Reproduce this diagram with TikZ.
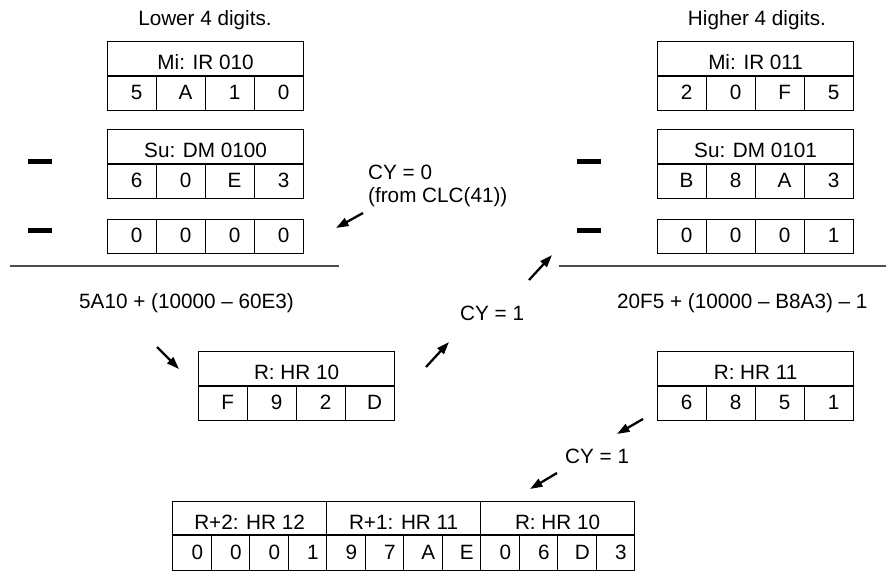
\documentclass[tikz,border=0pt]{standalone}
\usepackage{fontspec}
\setmainfont{Liberation Sans}
\usetikzlibrary{calc,arrows.meta}
\newcommand\regbox[6]{%
  \node[hdr, minimum width={#4pt*4}] (#1) at (#2,#3) {#5};
  \foreach \dg [count=\ci] in {#6}
    \node[cell, dshift=9pt, minimum width={#4pt}] (#1-\ci) at ($(#1.south west)+({(\ci-1)*#4},0)$) {\dg};
}
\begin{document}
\begin{tikzpicture}[x=1pt,y=-1pt,
  every node/.style={font=\fontsize{20.7pt}{24pt}\selectfont},
  box/.style={draw, line width=1.2pt, inner sep=0pt, anchor=north west},
  hdr/.style={box, minimum height=34pt, text height=22pt, text depth=0.2pt},
  cell/.style={box, minimum height=34pt, text height=12pt, text depth=0.2pt},
  dshift/.style={execute at begin node={\hspace*{#1}}},
  lbl/.style={inner sep=0pt},
  arr/.style={line width=2.3pt, -{Triangle[length=12.5pt,width=8.5pt]}},
  sep/.style={line width=1.3pt, black!70},
  minusbar/.style={fill=black}]
\useasboundingbox (0,0) rectangle (886,571);

% titles
\node[lbl, anchor=base] (lowt) at (205,25.5) {Lower 4 digits.};
\node[lbl, anchor=base] (hight) at (757,25.5) {Higher 4 digits.};

% left column
\regbox{mi1}{107}{41}{49}{Mi: IR 010}{5,A,1,0}
\regbox{su1}{107}{128.5}{49}{Su: DM 0100}{6,0,E,3}
\node[cell, dshift=9pt, minimum width=49pt] (z1-1) at (107,218.5) {0};
\node[cell, dshift=9pt, minimum width=49pt] (z1-2) at (156,218.5) {0};
\node[cell, dshift=9pt, minimum width=49pt] (z1-3) at (205,218.5) {0};
\node[cell, dshift=9pt, minimum width=49pt] (z1-4) at (254,218.5) {0};

% right column
\regbox{mi2}{657}{41}{49}{Mi: IR 011}{2,0,F,5}
\regbox{su2}{657}{128.5}{49}{Su: DM 0101}{B,8,A,3}
\node[cell, dshift=9pt, minimum width=49pt] (z2-1) at (657,218.5) {0};
\node[cell, dshift=9pt, minimum width=49pt] (z2-2) at (706,218.5) {0};
\node[cell, dshift=9pt, minimum width=49pt] (z2-3) at (755,218.5) {0};
\node[cell, dshift=9pt, minimum width=49pt] (z2-4) at (804,218.5) {1};

% minus signs
\fill[minusbar] (28,158.5) rectangle (52,163.5);
\fill[minusbar] (28,227.5) rectangle (52,232.5);
\fill[minusbar] (577,158.5) rectangle (601,163.5);
\fill[minusbar] (577,227.5) rectangle (601,232.5);

% separator lines
\coordinate (s1a) at (10,266);
\coordinate (s1b) at (339,266);
\coordinate (s2a) at (559,266);
\coordinate (s2b) at (886,266);
\draw[sep] (s1a) -- (s1b);
\draw[sep] (s2a) -- (s2b);

% carry texts
\node[lbl, anchor=base west] (cy0) at (368,179) {CY = 0};
\node[lbl, anchor=base west] (cy0b) at (368,202) {(from CLC(41))};
\node[lbl, anchor=base west] (eq1) at (79,308) {5A10 + (10000 – 60E3)};
\node[lbl, anchor=base west] (eq2) at (617,308) {20F5 + (10000 – B8A3) – 1};
\node[lbl, anchor=base west] (cy1a) at (460,320) {CY = 1};
\node[lbl, anchor=base west] (cy1b) at (565,463) {CY = 1};

% results
\regbox{hr10}{198}{351}{49}{R: HR 10}{F,9,2,D}
\regbox{hr11}{657}{351}{49}{R: HR 11}{6,8,5,1}

% final result
\node[hdr, minimum width=154pt, minimum height=33pt] (b3) at (172,501) {R+2: HR 12};
\node[hdr, minimum width=154pt, minimum height=33pt] (b2) at (326,501) {R+1: HR 11};
\node[hdr, minimum width=154pt, minimum height=33pt] (b1) at (480,501) {R: HR 10};
\foreach \dg [count=\ci] in {0,0,0,1,9,7,A,E,0,6,D,3}
  \node[cell, dshift=11pt, minimum width=38.5pt, minimum height=35pt]
    (bc-\ci) at ($(b3.south west)+({(\ci-1)*38.5},0)$) {\dg};

% arrows
\coordinate (a1s) at (363,213); \coordinate (a1e) at (336,228);
\coordinate (a2s) at (157,347); \coordinate (a2e) at (179,369);
\coordinate (a3s) at (426,367); \coordinate (a3e) at (449,342);
\coordinate (a4s) at (529,280); \coordinate (a4e) at (552,255);
\coordinate (a5s) at (643,419); \coordinate (a5e) at (617,434);
\coordinate (a6s) at (557,473); \coordinate (a6e) at (530,489);
\draw[arr] (a1s) -- (a1e);
\draw[arr] (a2s) -- (a2e);
\draw[arr] (a3s) -- (a3e);
\draw[arr] (a4s) -- (a4e);
\draw[arr] (a5s) -- (a5e);
\draw[arr] (a6s) -- (a6e);
\end{tikzpicture}
\end{document}
